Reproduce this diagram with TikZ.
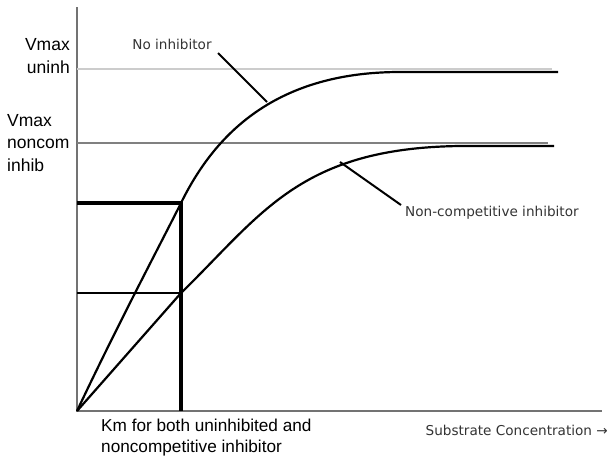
\documentclass[tikz,border=0pt]{standalone}
\usepackage{fontspec}
\setmainfont{Liberation Sans}
\newfontfamily\labelfont{DejaVu Sans}
\usetikzlibrary{positioning}
\tikzstyle{axis}=[draw=black!55, line width=1.6pt]
\tikzstyle{vmaxline}=[line width=1.6pt]
\tikzstyle{curve}=[draw=black, line width=2.2pt, line join=round]
\tikzstyle{kmline}=[draw=black, line width=3.2pt]
\tikzstyle{guide}=[draw=black, line width=2pt]
\tikzstyle{leader}=[draw=black, line width=2pt]
\tikzstyle{vlabel}=[font=\fontsize{17.5}{22.5}\selectfont, inner sep=0pt]
\tikzstyle{clabel}=[font=\labelfont\fontsize{13.6}{16}\selectfont, inner sep=0pt, text=black!80]

\begin{document}
\begin{tikzpicture}[x=1pt, y=-1pt]
				\useasboundingbox (0,0) rectangle (610,456);
				% axes
				\coordinate (o) at (77,411);
				\coordinate (ytop) at (77,7);
				\coordinate (xend) at (602,411);
				\draw[axis] (ytop) -- (o) -- (xend);

				% Vmax levels
				\coordinate (vu) at (77,69);
				\coordinate (vuend) at (552,69);
				\coordinate (vn) at (77,143);
				\coordinate (vnend) at (548,143);
				\draw[vmaxline, draw=black!20] (vu) -- (vuend);
				\draw[vmaxline, draw=black!50] (vn) -- (vnend);

				% Km markers
				\coordinate (hu) at (77,203);
				\coordinate (hn) at (77,293);
				\coordinate (km) at (181,411);
				\coordinate (ku) at (181,203);
				\coordinate (kn) at (181,293);
				\draw[guide] (hn) -- (kn);
				\draw[kmline] (hu) -- (ku) -- (km);

				% rate curves
				\coordinate (uflat) at (400,72);
				\coordinate (uend) at (558,72);
				\coordinate (nflat) at (460,146);
				\coordinate (nend) at (554,146);
				\draw[curve] (o) .. controls (120,320) and (160,245) .. (ku)
								.. controls (212,140) and (270,72) .. (uflat) -- (uend);
				\draw[curve] (o) -- (kn)
								.. controls (262,214) and (300,148) .. (nflat) -- (nend);

				% labels
				\node[vlabel, align=right, anchor=east] (vmaxu) at (70,56) {Vmax\\uninh};
				\node[vlabel, align=left, anchor=west] (vmaxn) at (7,143) {Vmax\\noncom\\inhib};
				\node[vlabel, font=\fontsize{17.2}{21}\selectfont, align=left, anchor=north west] (kmlabel) at (101,419) {Km for both uninhibited and\\noncompetitive inhibitor};
				\node[clabel] (noinh) at (172,44) {No inhibitor};
				\node[clabel, anchor=west] (ncinh) at (405,213) {Non-competitive inhibitor};
				\node[clabel, anchor=east] (substr) at (608,430) {Substrate Concentration →};

				% leaders
				\coordinate (noinhtip) at (218,53);
				\coordinate (pu) at (267,102);
				\coordinate (ncinhtip) at (401,205);
				\coordinate (pn) at (340,162);
				\draw[leader] (noinhtip) -- (pu);
				\draw[leader] (ncinhtip) -- (pn);
\end{tikzpicture}
\end{document}
